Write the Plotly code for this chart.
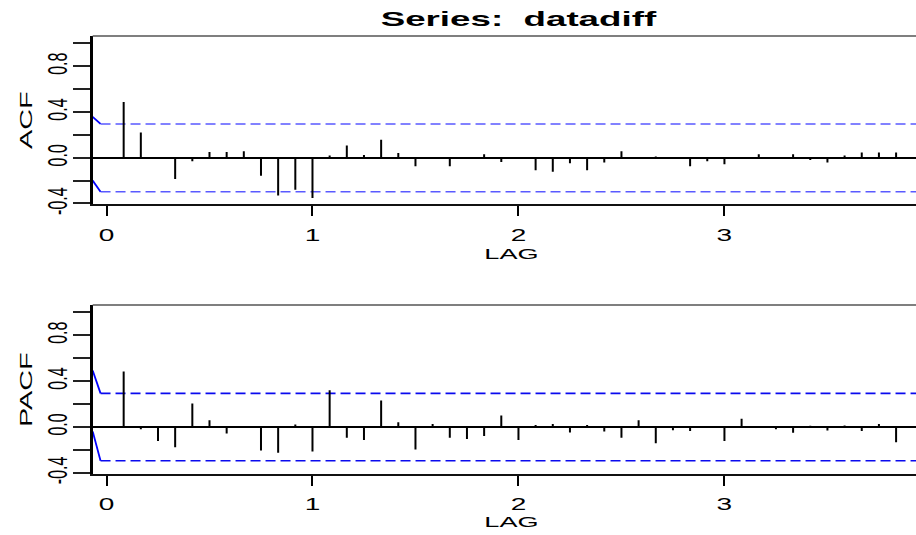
import plotly.graph_objects as go

# ---------------- data ----------------
lags = [k / 12 for k in range(1, 47)]
acf_vals = [0.486, 0.22, 0.003, -0.186, -0.03, 0.049, 0.049, 0.057, -0.157, -0.331,
            -0.28, -0.351, 0.02, 0.106, 0.023, 0.157, 0.04, -0.074, -0.003, -0.074,
            -0.01, 0.03, -0.037, -0.01, -0.11, -0.123, -0.049, -0.11, -0.043, 0.057,
            -0.01, 0.01, 0.0, -0.074, -0.03, -0.057, -0.01, 0.03, 0.005, 0.03,
            -0.02, -0.043, 0.02, 0.045, 0.045, 0.045]
pacf_vals = [0.483, -0.02, -0.123, -0.177, 0.203, 0.057, -0.057, 0.0, -0.206, -0.226,
             0.02, -0.214, 0.32, -0.094, -0.114, 0.229, 0.04, -0.197, 0.026, -0.094,
             -0.106, -0.08, 0.1, -0.114, 0.017, 0.026, -0.049, 0.017, -0.04, -0.094,
             0.057, -0.143, -0.029, -0.037, -0.011, -0.123, 0.071, 0.0, -0.02, -0.051,
             0.009, -0.031, 0.011, -0.035, 0.026, -0.134]
ci_acf = [0.295, -0.297]
ci_pacf = [0.292, -0.296]
edge_x = [-0.067, -0.029]
acf_edge_upper = [0.357, 0.295]
acf_edge_lower = [-0.20, -0.297]
pacf_edge_upper = [0.49, 0.292]
pacf_edge_lower = [-0.04, -0.296]
x_range = [-0.067, 3.93]
y_range = [-0.408, 1.063]
xtick_vals = [0, 1, 2, 3]
xtick_text = ["0", "1", "2", "3"]
ytick_vals = [-0.4, -0.2, 0.0, 0.2, 0.4, 0.6, 0.8, 1.0]
ytick_text = ["-0.4", "", "0.0", "", "0.4", "", "0.8", ""]
title_text = "Series:  datadiff"

W, H = 916, 535
FONT = "Liberation Sans, Arial, sans-serif"


def stems(xs, ys):
    sx, sy = [], []
    for a, b in zip(xs, ys):
        sx += [a, a, None]
        sy += [0, b, None]
    return sx, sy


fig = go.Figure()
panels = [("x", "y", acf_vals, ci_acf, acf_edge_upper, acf_edge_lower, "#5a5aff"),
          ("x2", "y2", pacf_vals, ci_pacf, pacf_edge_upper, pacf_edge_lower, "#0a0aee")]
for xa, ya, vals, ci, eu, el, dcol in panels:
    for lvl in ci:
        fig.add_trace(go.Scatter(x=[edge_x[1], x_range[1]], y=[lvl, lvl], mode="lines",
                                 line=dict(color=dcol, width=1.6, dash="10px,5px"),
                                 xaxis=xa, yaxis=ya, hoverinfo="skip", showlegend=False))
    for seg in (eu, el):
        fig.add_trace(go.Scatter(x=edge_x, y=seg, mode="lines",
                                 line=dict(color="#0000ff", width=1.8),
                                 xaxis=xa, yaxis=ya, hoverinfo="skip", showlegend=False))
    sx, sy = stems(lags, vals)
    fig.add_trace(go.Scatter(x=sx, y=sy, mode="lines", line=dict(color="black", width=2),
                             xaxis=xa, yaxis=ya, hoverinfo="skip", showlegend=False))

x_dom = [92.7 / W, 1.0]
doms = {"1": [1 - 208.3 / H, 1 - 36.7 / H], "2": [1 - 482.7 / H, 1 - 310.7 / H]}


def xaxis(anchor):
    return dict(domain=x_dom, range=x_range, anchor=anchor, tickvals=xtick_vals,
                ticktext=xtick_text, ticks="outside", ticklen=10, tickwidth=1.6,
                tickcolor="black", showline=True, linecolor="#111", linewidth=2,
                showgrid=False, zeroline=False, ticklabelstandoff=5,
                tickfont=dict(family=FONT, size=16, color="black"))


def yaxis(anchor, dom):
    return dict(domain=dom, range=y_range, anchor=anchor, tickvals=ytick_vals,
                ticktext=ytick_text, tickangle=-90, ticks="outside", ticklen=17,
                tickwidth=1.6, tickcolor="#222", showline=True, linecolor="black",
                linewidth=2.5, showgrid=False, zeroline=True, zerolinecolor="black",
                zerolinewidth=1.6, ticklabelstandoff=4,
                tickfont=dict(family=FONT, size=16, color="black"))


shapes = []
for ya in ("y", "y2"):
    xa = "x" if ya == "y" else "x2"
    shapes.append(dict(type="line", xref=xa + " domain", yref=ya + " domain",
                       x0=0, x1=1, y0=1, y1=1, line=dict(color="#555", width=1.5)))

annotations = [
    dict(text="<b>" + title_text + "</b>", x=519 / W, y=1 - 19 / H, xref="paper", yref="paper",
         showarrow=False, xanchor="center", yanchor="middle",
         font=dict(family=FONT, size=21, color="black")),
    dict(text="ACF", x=26 / W, y=1 - 123 / H, xref="paper", yref="paper", textangle=-90,
         showarrow=False, xanchor="center", yanchor="middle",
         font=dict(family=FONT, size=16.5, color="black")),
    dict(text="PACF", x=26 / W, y=1 - 397.5 / H, xref="paper", yref="paper", textangle=-90,
         showarrow=False, xanchor="center", yanchor="middle",
         font=dict(family=FONT, size=16.5, color="black")),
    dict(text="LAG", x=511 / W, y=1 - 258 / H, xref="paper", yref="paper",
         showarrow=False, xanchor="center", yanchor="middle",
         font=dict(family=FONT, size=15.5, color="black")),
    dict(text="LAG", x=511 / W, y=1 - 531 / H, xref="paper", yref="paper",
         showarrow=False, xanchor="center", yanchor="middle",
         font=dict(family=FONT, size=15.5, color="black")),
]

fig.update_layout(
    width=W, height=H, margin=dict(l=0, r=0, t=0, b=0),
    paper_bgcolor="white", plot_bgcolor="white", showlegend=False,
    xaxis=xaxis("y"), yaxis=yaxis("x", doms["1"]),
    xaxis2=xaxis("y2"), yaxis2=yaxis("x2", doms["2"]),
    shapes=shapes, annotations=annotations,
)

# Remove page margin, then widen all text horizontally
# (the source device stretched its glyphs sideways)
post = """
document.body.style.margin = '0';
document.body.style.padding = '0';
document.body.style.overflow = 'hidden';
var gd = document.getElementById('{plot_id}');
var sx = 1.75;
gd.querySelectorAll('text').forEach(function(t){
  if(!t.textContent.trim()) return;
  var r = t.getBoundingClientRect();
  var m = t.parentNode.getScreenCTM();
  if(!m) return;
  var p = new DOMPoint(r.left + r.width/2, r.top + r.height/2).matrixTransform(m.inverse());
  var T = t.getAttribute('transform') || '';
  t.setAttribute('transform', 'translate(' + p.x + ',' + p.y + ') scale(' + sx + ',1) translate(' + (-p.x) + ',' + (-p.y) + ') ' + T);
});
"""

fig.write_html("out.html", config={"displayModeBar": False}, post_script=post)
